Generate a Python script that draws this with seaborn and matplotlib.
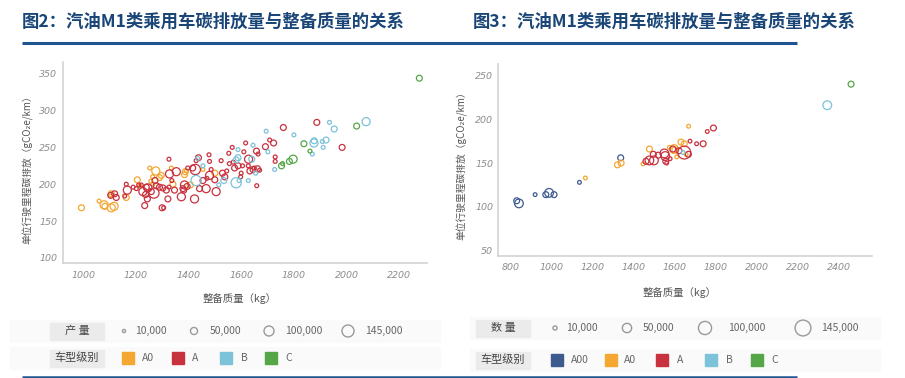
import matplotlib.pyplot as plt
import seaborn as sns
import pandas as pd
from matplotlib.patches import Rectangle

# ---- data: figure 2 (mass kg, CO2 g/km, volume, class) ----
f2_mass = [994, 1061, 1080, 1083, 1107, 1118, 1107, 1104, 1164, 1206, 1215, 1253, 1276, 1264, 1297, 1290,
           1257, 1341, 1388, 1385, 1407, 1455, 1500, 1335, 1265, 1392,
           1105, 1120, 1126, 1158, 1164, 1168, 1202, 1211, 1221, 1227, 1237, 1244, 1234, 1246, 1259, 1269,
           1273, 1278, 1290, 1303, 1316, 1306, 1326, 1322, 1328, 1326, 1337, 1347, 1354, 1373, 1379, 1385,
           1382, 1397, 1416, 1426, 1423, 1429, 1438, 1442, 1467, 1478, 1480, 1486, 1480, 1505, 1500, 1524,
           1529, 1538, 1545, 1553, 1566, 1570, 1588, 1598, 1617, 1610, 1628, 1627, 1633, 1658, 1664, 1662,
           1670, 1659, 1692, 1708, 1723, 1729, 1729, 1760, 1887, 1983, 1300, 1240, 1190, 1575, 1605, 1645,
           1600, 1650, 1555, 1470, 1395, 1455,
           1429, 1435, 1455, 1515, 1534, 1581, 1581, 1588, 1588, 1592, 1627, 1640, 1645, 1655, 1695, 1701,
           1727, 1800, 1876, 1877, 1870, 1908, 1911, 1922, 1935, 1953, 2074,
           1753, 1757, 1783, 1797, 1838, 1861, 2038, 2276]
f2_co2 = [168, 177, 172, 170, 168, 170, 187, 184, 182, 206, 198, 222, 218, 210, 212, 209,
          204, 200, 217, 213, 199, 220, 215, 222, 200, 218,
          185, 187, 182, 184, 200, 192, 194, 199, 199, 190, 186, 180, 171, 195, 190, 188,
          205, 198, 196, 195, 192, 168, 196, 180, 214, 234, 205, 192, 217, 183, 194, 199,
          192, 222, 222, 220, 180, 232, 236, 194, 194, 240, 231, 220, 212, 190, 206, 232,
          215, 210, 218, 242, 250, 230, 225, 210, 256, 244, 234, 225, 218, 245, 241, 221,
          219, 198, 251, 260, 256, 237, 231, 277, 284, 250, 168, 196, 196, 222, 225, 220,
          215, 222, 228, 208, 197, 205,
          205, 235, 225, 199, 205, 202, 233, 236, 247, 205, 205, 234, 253, 215, 272, 244,
          220, 267, 256, 259, 241, 258, 250, 260, 284, 275, 285,
          225, 228, 231, 234, 255, 245, 279, 344]
f2_vol = [35000, 15000, 65000, 35000, 65000, 65000, 35000, 15000, 35000, 35000, 15000, 15000, 65000, 15000, 35000, 35000,
          15000, 35000, 35000, 35000, 35000, 15000, 35000, 15000, 15000, 15000,
          35000, 35000, 35000, 15000, 15000, 65000, 15000, 15000, 15000, 65000, 35000, 35000, 35000, 65000, 35000, 105000,
          35000, 35000, 35000, 35000, 35000, 15000, 15000, 35000, 65000, 15000, 15000, 35000, 65000, 65000, 35000, 65000,
          35000, 15000, 35000, 105000, 65000, 15000, 35000, 35000, 65000, 15000, 15000, 15000, 65000, 65000, 35000, 15000,
          35000, 35000, 15000, 15000, 15000, 15000, 35000, 15000, 15000, 15000, 65000, 15000, 35000, 35000, 15000, 35000,
          15000, 15000, 35000, 15000, 35000, 15000, 15000, 35000, 35000, 35000, 35000, 35000, 15000, 35000, 15000, 35000,
          15000, 15000, 15000, 15000, 35000, 35000,
          105000, 15000, 15000, 15000, 35000, 105000, 35000, 35000, 15000, 15000, 15000, 35000, 15000, 15000, 15000, 15000,
          15000, 15000, 65000, 35000, 15000, 15000, 15000, 35000, 15000, 35000, 65000,
          35000, 15000, 35000, 65000, 35000, 15000, 35000, 35000]
f2_cls = ['A0'] * 26 + ['A'] * 86 + ['B'] * 27 + ['C'] * 8

# ---- data: figure 3 ----
f3_mass = [829, 840, 919, 971, 987, 1011, 1135, 1336,
           1164, 1320, 1338, 1445, 1476, 1573, 1596, 1600, 1609, 1630, 1646, 1667, 1655,
           1459, 1476, 1495, 1498, 1519, 1549, 1553, 1556, 1577, 1590, 1646, 1666, 1674, 1706, 1738, 1758,
           1788, 1560, 1620,
           1640, 2343,
           2459]
f3_co2 = [107, 104, 114, 114, 116, 114, 128, 156,
          133, 148, 150, 149, 166, 168, 166, 165, 157, 174, 172, 192, 160,
          152, 153, 160, 153, 159, 161, 158, 152, 155, 166, 162, 160, 175, 172, 172, 186,
          190, 150, 164,
          162, 216,
          240]
f3_vol = [25000, 55000, 10000, 25000, 55000, 25000, 10000, 25000,
          10000, 25000, 25000, 10000, 25000, 10000, 55000, 25000, 10000, 25000, 25000, 10000, 10000,
          25000, 55000, 25000, 55000, 25000, 55000, 55000, 25000, 10000, 25000, 120000, 25000, 10000, 10000, 25000, 10000,
          25000, 10000, 25000,
          10000, 55000,
          25000]
f3_cls = ['A00'] * 8 + ['A0'] * 13 + ['A'] * 19 + ['B'] * 2 + ['C']

legend_vols = [10000, 50000, 100000, 145000]
palette = {'A00': '#3d5b8f', 'A0': '#f4a731', 'A': '#c8323f', 'B': '#7cc2d8', 'C': '#55a646'}

sns.set_style('white')
plt.rcParams['font.family'] = ['Noto Sans CJK SC', 'DejaVu Sans']

fig = plt.figure(figsize=(9.05, 3.78), dpi=100)

# overlay in pixel coordinates for titles, rules and legends
ov = fig.add_axes([0, 0, 1, 1])
ov.set_xlim(0, 905)
ov.set_ylim(378, 0)
ov.axis('off')

navy = '#1a4677'
ov.text(22, 22, '图2：汽油M1类乘用车碳排放量与整备质量的关系', fontsize=12.5, fontweight='heavy',
        color=navy, va='center')
ov.text(473, 22, '图3：汽油M1类乘用车碳排放量与整备质量的关系', fontsize=12.5, fontweight='heavy',
        color=navy, va='center')
ov.plot([22, 797], [42.5, 42.5], color='#1f5590', lw=2.2, solid_capstyle='butt')
ov.plot([22, 797], [376.5, 376.5], color='#1f5590', lw=1.8, solid_capstyle='butt')


def panel(rect, mass, co2, vol, cls, order, smax, xlim, ylim, xticks, yticks, xpad, ypad):
    ax = fig.add_axes(rect)
    df = pd.DataFrame({'mass': mass, 'co2': co2, 'vol': vol, 'cls': cls})
    sns.scatterplot(data=df, x='mass', y='co2', hue='cls', size='vol', hue_order=order,
                    palette=palette, sizes=(smax * 10000 / 145000, smax),
                    size_norm=(10000, 145000), legend=False, ax=ax)
    coll = ax.collections[-1]
    fc = coll.get_facecolors()
    coll.set_edgecolors(fc)
    coll.set_facecolors('none')
    coll.set_linewidths(0.9)
    ax.set_xlim(*xlim)
    ax.set_ylim(*ylim)
    ax.set_xticks(xticks)
    ax.set_yticks(yticks)
    ax.set_xlabel('')
    ax.set_ylabel('')
    for s in ['top', 'right']:
        ax.spines[s].set_visible(False)
    for s in ['left', 'bottom']:
        ax.spines[s].set_color('#d3d3d3')
        ax.spines[s].set_linewidth(1.2)
    ax.tick_params(length=0, labelsize=6.8, labelcolor='#8c8c8c')
    ax.tick_params(axis='x', pad=xpad)
    ax.tick_params(axis='y', pad=ypad)
    for lab in ax.get_xticklabels() + ax.get_yticklabels():
        lab.set_fontfamily('DejaVu Sans')
        lab.set_fontstyle('italic')
    return ax


panel([63 / 905, 1 - 263 / 378, 364 / 905, 201 / 378], f2_mass, f2_co2, f2_vol, f2_cls,
      ['A0', 'A', 'B', 'C'], 75, (924, 2305), (93, 366),
      range(1000, 2201, 200), range(100, 351, 50), 6, 4)
panel([498 / 905, 1 - 256 / 378, 374 / 905, 192 / 378], f3_mass, f3_co2, f3_vol, f3_cls,
      ['A00', 'A0', 'A', 'B', 'C'], 104, (738, 2561), (44, 263),
      range(800, 2401, 200), range(50, 251, 50), 5, 3.5)

ylab = '单位行驶里程碳排放（gCO₂e/km）'
ov.text(28, 167, ylab, rotation=90, fontsize=7, color='#555555', ha='center', va='center')
ov.text(462, 163, ylab, rotation=90, fontsize=7, color='#555555', ha='center', va='center')
ov.text(240, 299, '整备质量（kg）', fontsize=7.5, color='#555555', ha='center', va='center')
ov.text(680, 292, '整备质量（kg）', fontsize=7.5, color='#555555', ha='center', va='center')


def legend(x0, x1, box_x, title, circ_x, txt_x, smax, sq_x, sq_txt_x, classes, y1, y2):
    ov.add_patch(Rectangle((x0, y1 - 11), x1 - x0, 22, color='#fafafa', zorder=0))
    ov.add_patch(Rectangle((x0, y2 - 11), x1 - x0, 22, color='#fafafa', zorder=0))
    ov.add_patch(Rectangle((box_x, y1 - 8.5), 54, 17, color='#ebebeb', zorder=1))
    ov.add_patch(Rectangle((box_x, y2 - 8.5), 54, 17, color='#ebebeb', zorder=1))
    ov.text(box_x + 27, y1, title, fontsize=8, color='#444444', ha='center', va='center', zorder=2)
    ov.text(box_x + 27, y2, '车型级别', fontsize=8, color='#444444', ha='center', va='center', zorder=2)
    for cx, tx, v in zip(circ_x, txt_x, legend_vols):
        ov.scatter([cx], [y1], s=smax * v / 145000, facecolors='none', edgecolors='#9a9a9a', lw=1)
        ov.text(tx, y1, f'{v:,}', fontsize=7.5, color='#666666', va='center')
    for sx, tx, c in zip(sq_x, sq_txt_x, classes):
        ov.add_patch(Rectangle((sx - 6, y2 - 6), 12, 12, color=palette[c], zorder=2))
        ov.text(tx, y2, c, fontsize=7.5, color='#666666', va='center')


legend(10, 440, 50, '产 量', [124, 194, 269, 348], [135, 210, 285, 365], 75,
       [128, 178, 226, 271], [142, 192, 241, 285], ['A0', 'A', 'B', 'C'], 331, 358)
legend(470, 880, 476, '数 量', [555, 627, 705, 803], [566, 643, 728, 821], 130,
       [557, 611, 662, 711, 757], [571, 624, 677, 726, 771], ['A00', 'A0', 'A', 'B', 'C'], 328, 360)

fig.savefig('out.png', dpi=100)
